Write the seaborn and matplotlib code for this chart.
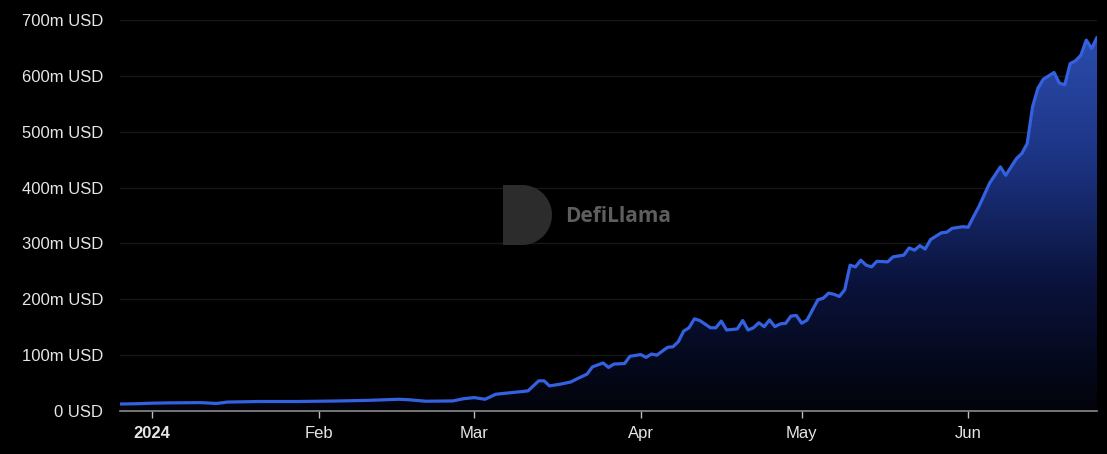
import numpy as np
import pandas as pd
import matplotlib
matplotlib.use("Agg")
import matplotlib.pyplot as plt
import matplotlib.dates as mdates
from matplotlib.colors import LinearSegmentedColormap
from matplotlib.patches import Polygon
import seaborn as sns

# TVL readings (millions of USD) taken off the chart
dates = [
    "2023-12-26", "2023-12-29", "2024-01-01", "2024-01-04", "2024-01-10", "2024-01-13",
    "2024-01-15", "2024-01-21", "2024-01-28", "2024-02-05", "2024-02-10", "2024-02-16",
    "2024-02-18", "2024-02-21", "2024-02-26", "2024-02-28", "2024-03-01", "2024-03-03",
    "2024-03-05", "2024-03-08", "2024-03-11", "2024-03-13", "2024-03-14", "2024-03-15",
    "2024-03-17", "2024-03-19", "2024-03-20", "2024-03-22", "2024-03-23", "2024-03-25",
    "2024-03-26", "2024-03-27", "2024-03-29", "2024-03-30", "2024-04-01", "2024-04-02",
    "2024-04-03", "2024-04-04", "2024-04-06", "2024-04-07", "2024-04-08", "2024-04-09",
    "2024-04-10", "2024-04-11", "2024-04-12", "2024-04-14", "2024-04-15", "2024-04-16",
    "2024-04-17", "2024-04-19", "2024-04-20", "2024-04-21", "2024-04-22", "2024-04-23",
    "2024-04-24", "2024-04-25", "2024-04-26", "2024-04-27", "2024-04-28", "2024-04-29",
    "2024-04-30", "2024-05-01", "2024-05-02", "2024-05-04", "2024-05-05", "2024-05-06",
    "2024-05-07", "2024-05-08", "2024-05-09", "2024-05-10", "2024-05-11", "2024-05-12",
    "2024-05-13", "2024-05-14", "2024-05-15", "2024-05-17", "2024-05-18", "2024-05-20",
    "2024-05-21", "2024-05-22", "2024-05-23", "2024-05-24", "2024-05-25", "2024-05-27",
    "2024-05-28", "2024-05-29", "2024-05-31", "2024-06-01", "2024-06-02", "2024-06-03",
    "2024-06-05", "2024-06-07", "2024-06-08", "2024-06-09", "2024-06-10", "2024-06-11",
    "2024-06-12", "2024-06-13", "2024-06-14", "2024-06-15", "2024-06-17", "2024-06-18",
    "2024-06-19", "2024-06-20", "2024-06-21", "2024-06-22", "2024-06-23", "2024-06-24",
    "2024-06-25",
]
tvl_m = [
    12.5, 13, 14, 14.5, 15, 13.5,
    16, 17, 17, 18, 19, 21,
    20, 17.5, 18, 22, 24, 21,
    30, 33, 36, 54, 54, 45,
    48, 52, 57, 66, 79, 86,
    78, 84, 85, 98, 101, 96,
    102, 100, 114, 115, 124, 143,
    149, 165, 162, 149, 149, 161,
    145, 147, 162, 145, 149, 158,
    151, 163, 151, 156, 157, 170,
    171, 157, 163, 199, 202, 211,
    209, 205, 217, 261, 258, 270,
    261, 258, 268, 267, 276, 279,
    292, 288, 296, 290, 307, 319,
    320, 327, 330, 329, 348, 366,
    408, 437, 422, 437, 452, 461,
    479, 545, 578, 594, 606, 587,
    584, 622, 627, 637, 664, 649,
    669,
]
y_ticks = [0, 100, 200, 300, 400, 500, 600, 700]
x_ticks = ["2024-01-01", "2024-02-01", "2024-03-01", "2024-04-01", "2024-05-01", "2024-06-01"]
x_labels = ["2024", "Feb", "Mar", "Apr", "May", "Jun"]

df = pd.DataFrame({"date": pd.to_datetime(dates), "tvl": tvl_m})

sns.set_style("dark", rc={"axes.facecolor": "black", "figure.facecolor": "black"})
plt.rcParams["font.family"] = ["Liberation Sans", "DejaVu Sans"]

W, H = 1107, 454
fig = plt.figure(figsize=(W / 100, H / 100), dpi=100)
ax = fig.add_axes([120 / W, 43 / H, 977 / W, 391 / H])
ax.set_facecolor("black")

# gradient fill under the curve
fill = ax.fill_between(df["date"], df["tvl"], 0, color="none", lw=0)
x0 = mdates.date2num(df["date"].iloc[0])
x1 = mdates.date2num(df["date"].iloc[-1])
grad_cmap = LinearSegmentedColormap.from_list("g", ["#02030a", "#0a123a", "#1c3382", "#2b4cad"])
grad = np.linspace(1, 0, 256).reshape(-1, 1)
im = ax.imshow(grad, extent=[x0, x1, 0, max(tvl_m)], aspect="auto", cmap=grad_cmap,
               origin="upper", zorder=1)
im.set_clip_path(fill.get_paths()[0], transform=ax.transData)

sns.lineplot(data=df, x="date", y="tvl", ax=ax, color="#3461e0", lw=2.3, zorder=3)

ax.set_xlim(x0, x1)
ax.set_ylim(0, 700)
ax.set_yticks(y_ticks)
ax.set_yticklabels([f"{v}m USD" if v else "0 USD" for v in y_ticks])
ax.set_xticks(mdates.date2num(pd.to_datetime(x_ticks)))
ax.set_xticklabels(x_labels)
ax.xaxis.get_ticklabels()[0].set_fontweight("bold")

ax.tick_params(axis="y", length=0, pad=12, labelsize=12, labelcolor="#e6e6e6")
ax.tick_params(axis="x", length=5, width=1, color="#bbbbbb", pad=6, labelsize=12,
               labelcolor="#e6e6e6", bottom=True)
ax.grid(axis="y", color="#171717", lw=1)
ax.grid(axis="x", visible=False)
ax.set_xlabel("")
ax.set_ylabel("")
for side in ["top", "right", "left"]:
    ax.spines[side].set_visible(False)
ax.spines["bottom"].set_visible(True)
ax.spines["bottom"].set_color("#8a8a8a")
ax.spines["bottom"].set_linewidth(1.2)

# watermark: D-shaped logo plus name
t = np.linspace(-np.pi / 2, np.pi / 2, 40)
cx, cy, r = 522, 215, 30
arc = [(cx + r * np.cos(a), cy + r * np.sin(a)) for a in t]
d_pts = [(503, cy - r)] + arc + [(503, cy + r)]
d_pts = [(px / W, (H - py) / H) for px, py in d_pts]
fig.patches.append(Polygon(d_pts, closed=True, transform=fig.transFigure,
                           facecolor="#2c2c2c", edgecolor="none", zorder=0))
fig.text(565 / W, (H - 216) / H, "DefiLlama", color="#5e5e5e", fontsize=15,
         fontweight="bold", va="center", ha="left", family=["Open Sans", "DejaVu Sans"])

fig.savefig("out.png", dpi=100, facecolor="black")
